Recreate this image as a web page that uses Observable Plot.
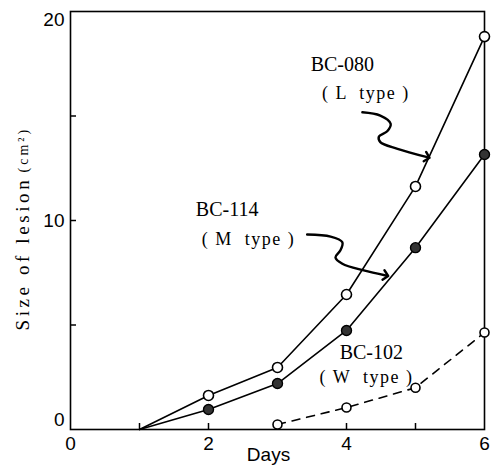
<!DOCTYPE html>
<html><head><meta charset="utf-8">
<script src="https://cdn.jsdelivr.net/npm/d3@7"></script>
<script src="https://cdn.jsdelivr.net/npm/@observablehq/plot@0.6"></script>
<style>
html,body{margin:0;padding:0;background:#fff;}
</style></head><body><div id="chart"></div><script>
// data
const days = [1, 2, 3, 4, 5, 6];
const typeL = [0, 1.63, 2.97, 6.46, 11.63, 18.8];   // BC-080 (L type)
const typeM = [0, 0.96, 2.2, 4.74, 8.7, 13.16];     // BC-114 (M type)
const daysW = [3, 4, 5, 6];
const typeW = [0.24, 1.05, 2.0, 4.64];              // BC-102 (W type)
const xTickLabels = [0, 2, 4, 6];
const xTicks = [1, 2, 3, 4, 5];
const yTicks = [5, 10, 15];

// annotations (data units)
const names = [
  {t: "BC-080", x: 3.94, y: 17.45},
  {t: "BC-114", x: 2.27, y: 10.5},
  {t: "BC-102", x: 4.36, y: 3.7}
];
const types = [
  {t: "( L  type )", x: 4.28, y: 16.1},
  {t: "( M  type )", x: 2.58, y: 9.1},
  {t: "( W  type )", x: 4.29, y: 2.5}
];
const arrowL = [[4.23,15.18],[4.49,15.02],[4.64,14.63],[4.59,14.27],[4.47,14.02],[4.49,13.75],[4.74,13.43],[5.17,13.03]];
const arrowM = [[3.43,9.33],[3.77,9.23],[3.94,8.96],[3.91,8.56],[3.84,8.24],[3.94,7.93],[4.25,7.61],[4.57,7.37]];

const L = days.map((d, i) => ({day: d, v: typeL[i]}));
const M = days.map((d, i) => ({day: d, v: typeM[i]}));
const W = daysW.map((d, i) => ({day: d, v: typeW[i]}));

const sans = "Liberation Sans, Arial, sans-serif";
const serif = "Liberation Serif, Times New Roman, serif";

const plot = Plot.plot({
  width: 496, height: 469,
  marginLeft: 70, marginRight: 12, marginTop: 11, marginBottom: 40,
  x: {domain: [0, 6], label: null},
  y: {domain: [0, 20], label: null},
  style: {background: "#fff", color: "#000"},
  marks: [
    Plot.frame({stroke: "#000", strokeWidth: 1.6}),
    Plot.axisX({ticks: xTicks, tickSize: 6, dy: -6, tickFormat: () => "", label: null, strokeWidth: 1.5}),
    Plot.axisY({ticks: yTicks, tickSize: 6, dx: 6, tickFormat: () => "", label: null, strokeWidth: 1.5}),
    Plot.axisX({ticks: xTickLabels, tickSize: 0, tickPadding: 7, tickFormat: "d", label: null, fontSize: 19, fontFamily: sans}),
    Plot.axisY({ticks: [20], tickSize: 0, tickPadding: 6, dy: 8, tickFormat: "d", label: null, fontSize: 19, fontFamily: sans}),
    Plot.axisY({ticks: [10], tickSize: 0, tickPadding: 6, tickFormat: "d", label: null, fontSize: 19, fontFamily: sans}),
    Plot.axisY({ticks: [0], tickSize: 0, tickPadding: 6, dy: -10, tickFormat: "d", label: null, fontSize: 19, fontFamily: sans}),
    Plot.text(["Days"], {frameAnchor: "bottom", dx: -9, dy: 31, fontSize: 19, fontFamily: sans}),
    Plot.text(["Size of lesion"], {frameAnchor: "left", rotate: -90, textAnchor: "start", dx: -48, dy: 110, fontSize: 19, fontFamily: serif}),
    Plot.text(["(cm²)"], {frameAnchor: "left", rotate: -90, textAnchor: "start", dx: -47, dy: -48, fontSize: 14, fontFamily: serif}),
    Plot.line(L, {x: "day", y: "v", stroke: "#000", strokeWidth: 1.6}),
    Plot.line(M, {x: "day", y: "v", stroke: "#000", strokeWidth: 1.6}),
    Plot.line(W, {x: "day", y: "v", stroke: "#000", strokeWidth: 1.6, strokeDasharray: "8,7"}),
    Plot.dot(L.filter(d => d.v > 0), {x: "day", y: "v", r: 5, fill: "#fff", stroke: "#000", strokeWidth: 1.6}),
    Plot.dot(M.filter(d => d.v > 0), {x: "day", y: "v", r: 5, fill: "#333", stroke: "#000", strokeWidth: 1.4}),
    Plot.dot(W, {x: "day", y: "v", r: 4.5, fill: "#fff", stroke: "#000", strokeWidth: 1.6}),
    Plot.line(arrowL, {x: d => d[0], y: d => d[1], curve: "catmull-rom", stroke: "#000", strokeWidth: 2.4, markerEnd: "arrow"}),
    Plot.line(arrowM, {x: d => d[0], y: d => d[1], curve: "catmull-rom", stroke: "#000", strokeWidth: 2.4, markerEnd: "arrow"}),
    Plot.text(names, {x: "x", y: "y", text: "t", fontSize: 20, fontFamily: serif}),
    Plot.text(types, {x: "x", y: "y", text: "t", fontSize: 18, fontFamily: serif})
  ]
});
// letter spacing like the typeset original
d3.select(plot).selectAll("text").each(function() {
  const t = this.textContent;
  if (t === "Size of lesion") this.style.letterSpacing = "3.6px";
  else if (t === "(cm²)") this.style.letterSpacing = "3px";
  else if (t.indexOf("type") >= 0) this.style.letterSpacing = "1.5px";
});
document.getElementById("chart").appendChild(plot);
</script></body></html>
